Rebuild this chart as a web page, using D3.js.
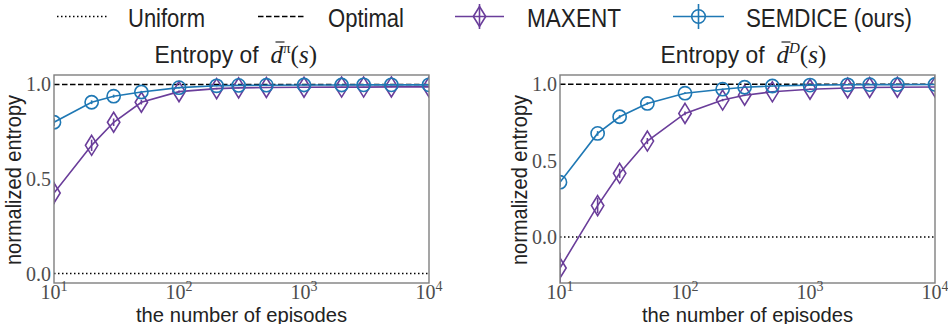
<!DOCTYPE html>
<html><head><meta charset="utf-8">
<script src="https://cdn.jsdelivr.net/npm/d3@7"></script>
<style>
body{margin:0;background:#fff;}
svg{display:block;}
</style></head>
<body>
<svg id="chart" width="948" height="324"></svg>
<script>
// ---- data ----
const episodes = [10,20,30,50,100,200,300,500,1000,2000,3000,5000,10000];
const seriesNames = ["Uniform","Optimal","MAXENT","SEMDICE (ours)"];
const panelTitles = ["\u03c0","D"];
// left panel: entropy of d^pi(s)
const leftMaxent  = [0.426,0.678,0.800,0.906,0.962,0.978,0.982,0.984,0.985,0.986,0.986,0.987,0.987];
const leftMaxentErr = [0.06,0.03,0.02,0.012,0.006,0.004,0.003,0.003,0.002,0.002,0.002,0.002,0.002];
const leftSemdice = [0.800,0.906,0.938,0.960,0.983,0.993,0.995,0.996,0.997,0.997,0.998,0.998,0.998];
const leftSemdiceErr = [0.02,0.01,0.008,0.006,0.004,0.003,0.002,0.002,0.002,0.002,0.002,0.002,0.002];
// right panel: entropy of d^D(s)
const rightMaxent  = [-0.202,0.206,0.417,0.628,0.809,0.896,0.928,0.950,0.967,0.975,0.978,0.980,0.982];
const rightMaxentErr = [0.10,0.05,0.03,0.02,0.012,0.008,0.006,0.005,0.004,0.003,0.003,0.003,0.003];
const rightSemdice = [0.359,0.678,0.787,0.874,0.941,0.967,0.980,0.988,0.994,0.996,0.997,0.997,0.998];
const rightSemdiceErr = [0.03,0.015,0.01,0.008,0.006,0.004,0.003,0.002,0.002,0.002,0.002,0.002,0.002];
const uniformLevel = 0.0, optimalLevel = 1.0;
const yTicks = [0.0,0.5,1.0];
const xTicks = [10,100,1000,10000];
const leftYDomain = [-0.05,1.05];
const rightYDomain = [-0.3,1.06];

const colMaxent = "#6a3d9a", colSemdice = "#1f78b4";
const sans = "'Liberation Sans Narrow','Liberation Sans','DejaVu Sans',sans-serif";
const serif = "'Liberation Serif','DejaVu Serif',serif";

const svg = d3.select("#chart");

function diamondPath(cx, cy, w, h){
  return `M${cx},${cy-h}L${cx+w},${cy}L${cx},${cy+h}L${cx-w},${cy}Z`;
}

function panel(idx, x0, x1, yDom, maxent, maxentErr, semdice, semdiceErr, sup){
  const top = 75, bottom = 283;
  const x = d3.scaleLog().domain([10,10000]).range([x0,x1]);
  const y = d3.scaleLinear().domain(yDom).range([bottom,top]);
  const g = svg.append("g");
  const clipId = "clip"+idx;
  svg.append("clipPath").attr("id",clipId).append("rect")
    .attr("x",x0).attr("y",top).attr("width",x1-x0).attr("height",bottom-top);
  const pg = g.append("g").attr("clip-path",`url(#${clipId})`);

  // reference lines
  pg.append("line").attr("x1",x0).attr("x2",x1).attr("y1",y(uniformLevel)).attr("y2",y(uniformLevel))
    .attr("stroke","#000").attr("stroke-width",1.5).attr("stroke-dasharray","1.5,2.5");
  pg.append("line").attr("x1",x0).attr("x2",x1).attr("y1",y(optimalLevel)).attr("y2",y(optimalLevel))
    .attr("stroke","#000").attr("stroke-width",1.5).attr("stroke-dasharray","5.5,2.5");

  const line = d3.line().x((d,i)=>x(episodes[i])).y(d=>y(d));
  function drawSeries(vals, errs, color, kind){
    const sg = pg.append("g");
    sg.append("path").datum(vals).attr("d",line).attr("fill","none")
      .attr("stroke",color).attr("stroke-width",1.6);
    sg.selectAll("line.err").data(vals).enter().append("line")
      .attr("x1",(d,i)=>x(episodes[i])).attr("x2",(d,i)=>x(episodes[i]))
      .attr("y1",(d,i)=>y(d-errs[i])).attr("y2",(d,i)=>y(d+errs[i]))
      .attr("stroke",color).attr("stroke-width",1.6);
    if(kind==="d"){
      sg.selectAll("path.m").data(vals).enter().append("path")
        .attr("d",(d,i)=>diamondPath(x(episodes[i]),y(d),6.2,10))
        .attr("fill","none").attr("stroke",color).attr("stroke-width",1.6);
    } else {
      sg.selectAll("circle").data(vals).enter().append("circle")
        .attr("cx",(d,i)=>x(episodes[i])).attr("cy",d=>y(d)).attr("r",6.6)
        .attr("fill","none").attr("stroke",color).attr("stroke-width",1.6);
    }
  }
  drawSeries(maxent, maxentErr, colMaxent, "d");
  drawSeries(semdice, semdiceErr, colSemdice, "o");

  // frame
  g.append("rect").attr("x",x0).attr("y",top).attr("width",x1-x0).attr("height",bottom-top)
    .attr("fill","none").attr("stroke","#7f7f7f").attr("stroke-width",1.4);

  // y tick labels
  yTicks.forEach(t=>{
    g.append("text").attr("x",x0-3).attr("y",y(t)+7).attr("text-anchor","end")
      .attr("font-family",serif).attr("font-size",20).attr("fill","#4d4d4d")
      .text(d3.format(".1f")(t));
  });
  // x tick labels 10^k
  xTicks.forEach(t=>{
    const e = Math.round(Math.log10(t));
    const tx = g.append("text").attr("x",x(t)).attr("y",299).attr("text-anchor","middle")
      .attr("font-family",serif).attr("font-size",20).attr("fill","#4d4d4d");
    tx.append("tspan").text("10");
    tx.append("tspan").attr("font-size",14).attr("dy",-8).text(String(e));
  });
  const cx = (x0+x1)/2;
  // x label
  g.append("text").attr("x",cx).attr("y",321.5).attr("text-anchor","middle")
    .attr("font-family",sans).attr("font-size",20).attr("fill","#222")
    .attr("textLength",211).attr("lengthAdjust","spacingAndGlyphs")
    .text("the number of episodes");
  // y label
  g.append("text").attr("transform",`translate(${x0-33},180) rotate(-90)`)
    .attr("text-anchor","middle").attr("font-family",sans).attr("font-size",22).attr("fill","#222")
    .attr("textLength",170).attr("lengthAdjust","spacingAndGlyphs")
    .text("normalized entropy");
  // title
  g.append("text").attr("x",cx-87).attr("y",63)
    .attr("font-family",sans).attr("font-size",24).attr("fill","#222")
    .attr("textLength",104).attr("lengthAdjust","spacingAndGlyphs")
    .text("Entropy of");
  const mt = g.append("text").attr("x",cx+29).attr("y",63)
    .attr("font-family",serif).attr("font-size",25).attr("fill","#222");
  mt.append("tspan").attr("font-style","italic").text("d");
  mt.append("tspan").attr("font-size",15).attr("dy",-10).attr("font-style", sup==="D"?"italic":"normal").text(sup);
  mt.append("tspan").attr("dy",10).text("(");
  mt.append("tspan").attr("font-style","italic").text("s");
  mt.append("tspan").text(")");
  // bar over d
  const ext = mt.node().getExtentOfChar(0);
  g.append("line").attr("x1",ext.x+ext.width*0.4).attr("x2",ext.x+ext.width+1.5)
    .attr("y1",42).attr("y2",42).attr("stroke","#222").attr("stroke-width",1.2);
}

panel(0, 54, 429, leftYDomain, leftMaxent, leftMaxentErr, leftSemdice, leftSemdiceErr, panelTitles[0]);
panel(1, 560, 935, rightYDomain, rightMaxent, rightMaxentErr, rightSemdice, rightSemdiceErr, panelTitles[1]);

// ---- legend ----
const lg = svg.append("g");
const ly = 16.5, lty = 27;
const legendItems = [
  {name:seriesNames[0], x0:57, x1:107, tx:128, tw:77, dash:"1.5,2.5", color:"#000", marker:null},
  {name:seriesNames[1], x0:258, x1:305, tx:328, tw:76, dash:"5.5,2.5", color:"#000", marker:null},
  {name:seriesNames[2], x0:455, x1:504, tx:527, tw:94, dash:null, color:colMaxent, marker:"d"},
  {name:seriesNames[3], x0:673, x1:724, tx:746, tw:166, dash:null, color:colSemdice, marker:"o"}
];
legendItems.forEach(it=>{
  const l = lg.append("line").attr("x1",it.x0).attr("x2",it.x1).attr("y1",ly).attr("y2",ly)
    .attr("stroke",it.color).attr("stroke-width",1.6);
  if(it.dash) l.attr("stroke-dasharray",it.dash);
  const mx = (it.x0+it.x1)/2;
  if(it.marker){
    lg.append("line").attr("x1",mx).attr("x2",mx).attr("y1",ly-12.5).attr("y2",ly+12.5)
      .attr("stroke",it.color).attr("stroke-width",1.6);
    if(it.marker==="d"){
      lg.append("path").attr("d",diamondPath(mx,ly,6.2,10)).attr("fill","none")
        .attr("stroke",it.color).attr("stroke-width",1.6);
    } else {
      lg.append("circle").attr("cx",mx).attr("cy",ly).attr("r",6.8).attr("fill","none")
        .attr("stroke",it.color).attr("stroke-width",1.6);
    }
  }
  lg.append("text").attr("x",it.tx).attr("y",lty).attr("font-family",sans).attr("font-size",26)
    .attr("fill","#222").attr("textLength",it.tw).attr("lengthAdjust","spacingAndGlyphs").text(it.name);
});
</script>
</body></html>
